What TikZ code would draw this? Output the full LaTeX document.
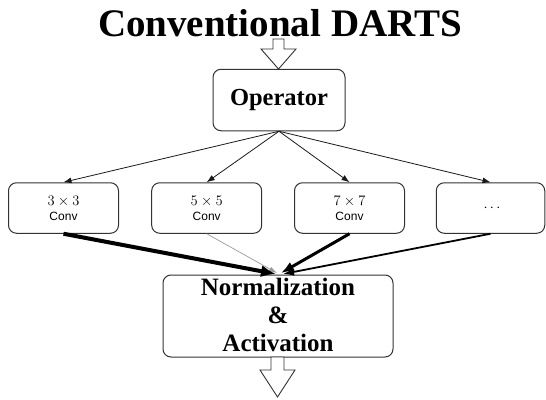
\documentclass[tikz,border=0pt]{standalone}
\usepackage{fix-cm}
\usepackage{fontspec}
\setmainfont{Liberation Serif}
\newfontfamily\convfont{Liberation Sans}
\usetikzlibrary{arrows.meta}
\definecolor{edge}{HTML}{333333}
\definecolor{thin}{HTML}{9A9A9A}
\begin{document}
\begin{tikzpicture}[x=1pt,y=-1pt,
  roundbox/.style={draw=edge, line width=1pt, rounded corners=8pt, inner sep=0pt},
  convbox/.style={roundbox, minimum width=110pt, minimum height=50.5pt},
  mathtxt/.style={font=\fontsize{14.5}{15}\selectfont, inner sep=0pt},
  convtxt/.style={font=\convfont\fontsize{12}{14}\selectfont, inner sep=0pt},
  normtxt/.style={font=\fontsize{25}{28}\selectfont\bfseries, inner sep=0pt},
  fan/.style={draw=black!90, line width=0.8pt, -{Latex[length=8pt,width=6pt]}},
  hollow/.style={draw=edge, line width=0.9pt, fill=white, line join=miter}
]
\useasboundingbox (0,0) rectangle (546,399);

% title
\node[font=\fontsize{39}{40}\selectfont\bfseries, anchor=base, inner sep=0pt] (title) at (280,36) {Conventional DARTS};

% top hollow arrow
\draw[hollow] (273,39) -- (284,39) -- (284,49) -- (296,49) -- (278.5,69) -- (261,49) -- (273,49) -- cycle;

% operator
\node[roundbox, minimum width=132pt, minimum height=61.5pt, font=\fontsize{24.5}{26}\selectfont\bfseries] (op) at (279,100) {Operator};

% conv boxes
\node[convbox] (c1) at (63.5,208) {};
\node[convbox] (c2) at (206.7,208) {};
\node[convbox] (c3) at (349.5,208) {};
\node[convbox, minimum width=108.5pt] (c4) at (490.5,208) {};

\node[mathtxt, anchor=base] (c1a) at (63.5,205) {$3\times3$};
\node[convtxt, anchor=base] (c1b) at (63.5,220) {Conv};
\node[mathtxt, anchor=base] (c2a) at (206.7,205) {$5\times5$};
\node[convtxt, anchor=base] (c2b) at (206.7,220) {Conv};
\node[mathtxt, anchor=base] (c3a) at (349.5,205) {$7\times7$};
\node[convtxt, anchor=base] (c3b) at (349.5,220) {Conv};
\node[mathtxt] (c4a) at (492,208) {$\cdots$};

% fan arrows
\draw[fan] (op.south) -- (c1.north);
\draw[fan] (op.south) -- (c2.north);
\draw[fan] (op.south) -- (c3.north);
\draw[fan] (op.south) -- (c4.north);

% normalization box
\node[roundbox, minimum width=230pt, minimum height=82pt] (norm) at (278,316) {};
\node[normtxt, anchor=base] (n1) at (278,295) {Normalization};
\node[normtxt, anchor=base] (n2) at (278,323) {\&};
\node[normtxt, anchor=base] (n3) at (278,351) {Activation};

% weighted arrows
\coordinate (t1) at (276,274);
\coordinate (t2) at (277,273);
\coordinate (t3) at (281,273);
\coordinate (t4) at (283,274);
\draw[draw=thin, line width=0.7pt, -{Latex[length=8pt,width=5pt]}] (c2.south) -- (t2);
\draw[draw=black, line width=1.8pt, -{Latex[length=11pt,width=8pt]}] (c4.south) -- (t4);
\draw[draw=black, line width=3pt, -{Latex[length=13pt,width=10pt]}] (c3.south) -- (t3);
\draw[draw=black, line width=4pt, -{Latex[length=15pt,width=12pt]}] (c1.south) -- (t1);

% bottom hollow arrow
\draw[hollow] (271,357) -- (284,357) -- (284,370) -- (295,370) -- (277.5,397) -- (260,370) -- (271,370) -- cycle;
\end{tikzpicture}
\end{document}
